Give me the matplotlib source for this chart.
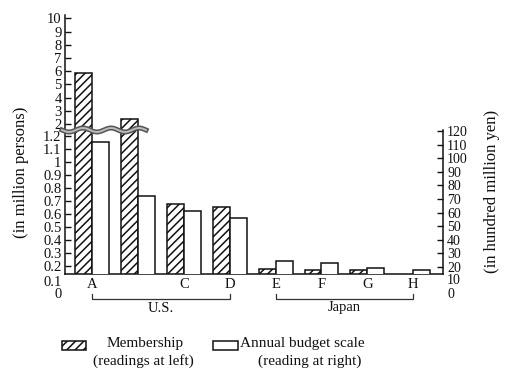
import numpy as np
import matplotlib
matplotlib.use('Agg')
import matplotlib.pyplot as plt
import matplotlib.transforms as mtransforms
from matplotlib.lines import Line2D
from matplotlib.patches import Rectangle

# ---------------- data ----------------
categories = ['A', 'B', 'C', 'D', 'E', 'F', 'G', 'H']
tick_labels = ['A', '', 'C', 'D', 'E', 'F', 'G', 'H']
membership = [5.85, 2.38, 0.68, 0.65, 0.18, 0.167, 0.165, np.nan]   # million persons (left)
budget = [112, 72.5, 61, 56, 24.2, 22.9, 19, 17.5]                  # hundred million yen (right)
group_names = ['U.S.', 'Japan']
group_spans = [(0, 3), (4, 7)]
left_upper_ticks = [10, 9, 8, 7, 6, 5, 4, 3, 2]
left_lower_ticks = [1.2, 1.1, 1.0, 0.9, 0.8, 0.7, 0.6, 0.5, 0.4, 0.3, 0.2]
left_lower_labels = ['1.2', '1.1', '1', '0.9', '0.8', '0.7', '0.6', '0.5', '0.4', '0.3', '0.2']
left_extra_labels = ['0.1', '0']
right_ticks = [120, 110, 100, 90, 80, 70, 60, 50, 40, 30, 20]
right_extra_labels = ['10', '0']

W, H = 516, 379
plt.rcParams['font.family'] = ['Liberation Serif', 'DejaVu Serif']
plt.rcParams['hatch.linewidth'] = 1.1
plt.rcParams['hatch.color'] = '#111111'

fig = plt.figure(figsize=(W / 100, H / 100), dpi=100)

def fx(x):
    return x / W

def fy(y):
    return 1 - y / H

# main axes geometry (pixels)
L, R, T, B = 65, 443, 15, 274
ax = fig.add_axes([fx(L), fy(B), (R - L) / W, (B - T) / H])

# broken left scale: lower part 0.138..1.238 and upper part 1.47..10.26
V = np.array([-50.0, 0.138, 1.238, 1.47, 10.26, 200.0])
P = np.array([(-50 - 0.138) * 130, 0.0, 143.0, 143.01, 259.0, 259.0 + (200 - 10.26) * 13.2])

def fwd(v):
    return np.interp(np.asarray(v, dtype=float), V, P)

def inv(p):
    return np.interp(np.asarray(p, dtype=float), P, V)

ax.set_yscale('function', functions=(fwd, inv))
ax.set_ylim(0.138, 10.26)

idx = np.arange(len(categories))
bw = 0.37
ax.set_xlim(-0.588, 7.647)

ax.bar(idx - bw / 2, membership, width=bw, color='white', edgecolor='#111111',
       hatch='////', linewidth=1.1, zorder=2)

ax.set_yticks(left_upper_ticks + left_lower_ticks)
ax.set_yticklabels([str(t) for t in left_upper_ticks] + left_lower_labels)
ax.yaxis.set_minor_locator(matplotlib.ticker.NullLocator())
ax.tick_params(axis='y', direction='in', length=4, width=1, pad=2.5,
               labelsize=10.5, colors='#111111')
ax.set_xticks(idx)
ax.set_xticklabels(tick_labels)
ax.tick_params(axis='x', length=0, pad=3, labelsize=10.5, colors='#111111')
for s in ['top', 'right']:
    ax.spines[s].set_visible(False)
for s in ['left', 'bottom']:
    ax.spines[s].set_linewidth(1.1)
    ax.spines[s].set_color('#111111')

# right axis (budget)
ax2 = fig.add_axes([fx(L), fy(B), (R - L) / W, (B - 130) / H])
ax2.patch.set_visible(False)
ax2.set_xlim(-0.588, 7.647)
ax2.set_ylim(14.85, 120.7)
ax2.bar(idx + bw / 2, budget, width=bw, color='white', edgecolor='#111111',
        linewidth=1.1, zorder=2)
ax2.yaxis.tick_right()
ax2.set_yticks(right_ticks)
ax2.set_yticklabels([str(t) for t in right_ticks])
ax2.tick_params(axis='y', direction='in', length=4, width=1, pad=3,
                labelsize=10, colors='#111111')
ax2.set_xticks([])
for s in ['top', 'left', 'bottom']:
    ax2.spines[s].set_visible(False)
ax2.spines['right'].set_linewidth(1.1)
ax2.spines['right'].set_color('#111111')

# extra labels below the baseline
for i, s in enumerate(left_extra_labels):
    off = mtransforms.ScaledTranslation(-3.5 / 100, -(8 + 13 * i) / 100, fig.dpi_scale_trans)
    ax.text(0, 0, s, transform=ax.transAxes + off, ha='right', va='center',
            fontsize=10.5, color='#111111')
for i, s in enumerate(right_extra_labels):
    off = mtransforms.ScaledTranslation(4 / 100, -(7 + 13 * i) / 100, fig.dpi_scale_trans)
    ax2.text(1, 0, s, transform=ax2.transAxes + off, ha='left', va='center',
             fontsize=10, color='#111111')

# group brackets
bt = mtransforms.blended_transform_factory(ax.transData, fig.transFigure)
for name, (a, b) in zip(group_names, group_spans):
    ax.add_line(Line2D([a, a, b, b], [fy(294), fy(299), fy(299), fy(294)],
                       transform=bt, color='#333333', lw=0.9, clip_on=False))
    ax.text((a + b) / 2, fy(308), name, transform=bt, ha='center', va='center',
            fontsize=10.5, color='#111111')

# break mark (wavy line)
xs = np.linspace(62, 146, 200)
ys = 130 + 2.0 * np.sin((xs - 62) / 28 * 2 * np.pi)
fig.add_artist(Line2D(fx(xs), fy(ys), transform=fig.transFigure, color='#555555', lw=3.6, zorder=10))
fig.add_artist(Line2D(fx(xs), fy(ys), transform=fig.transFigure, color='#bbbbbb', lw=1.4, zorder=11))

# axis titles
fig.text(fx(21), fy(172), '(in million persons)', rotation=90, ha='center', va='center',
         fontsize=12, color='#111111')
fig.text(fx(492), fy(191), '(in hundred million yen)', rotation=90, ha='center', va='center',
         fontsize=12, color='#111111')

# legend
fig.patches.append(Rectangle((fx(62), fy(350)), 24 / W, 9 / H, transform=fig.transFigure,
                             facecolor='white', edgecolor='#111111', hatch='////', lw=1.1))
fig.patches.append(Rectangle((fx(213), fy(350)), 25 / W, 9 / H, transform=fig.transFigure,
                             facecolor='white', edgecolor='#111111', lw=1.1))
fig.text(fx(145), fy(344), 'Membership', ha='center', va='center', fontsize=11, color='#111111')
fig.text(fx(143), fy(361), '(readings at left)', ha='center', va='center', fontsize=11, color='#111111')
fig.text(fx(240), fy(344), 'Annual budget scale', ha='left', va='center', fontsize=11, color='#111111')
fig.text(fx(310), fy(361), '(reading at right)', ha='center', va='center', fontsize=11, color='#111111')

fig.savefig('out.png', dpi=100)
